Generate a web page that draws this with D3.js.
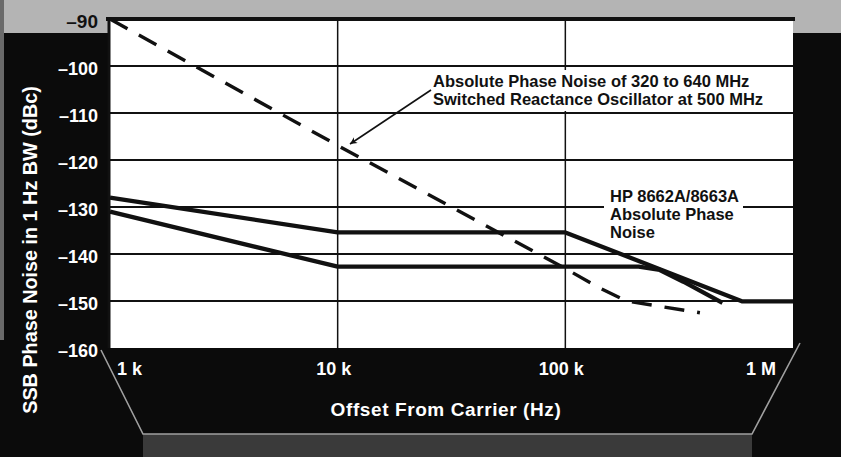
<!DOCTYPE html>
<html>
<head>
<meta charset="utf-8">
<script src="https://cdn.jsdelivr.net/npm/d3@7"></script>
<style>
  html, body { margin: 0; padding: 0; background: #0b0b0b; }
  svg { display: block; font-family: "Liberation Sans", Arial, Helvetica, sans-serif; }
</style>
</head>
<body>
<div id="chart"></div>
<script>
// Daten
const decades = [1e3, 1e4, 1e5, 1e6];
const decadeLabels = ["1 k", "10 k", "100 k", "1 M"];
const yTicks = [-90, -100, -110, -120, -130, -140, -150, -160];

// Switched Reactance Oscillator (gestrichelt)
const sraFreq  = [1e3, 1e4, 1e5, 1.41e5, 1.86e5, 3.9e5];
const sraNoise = [-90, -116.9, -143.1, -147.2, -150.0, -152.5];

// HP 8662A/8663A, obere Kurve
const hpUpperFreq  = [1e3, 1e4, 1e5, 6e5, 1e6];
const hpUpperNoise = [-128, -135.4, -135.4, -150.1, -150.1];

// HP 8662A/8663A, untere Kurve
const hpLowerFreq  = [1e3, 1e4, 2.1e5, 2.6e5, 3.3e5, 4.9e5];
const hpLowerNoise = [-131, -142.7, -142.7, -143.4, -145.9, -150.4];

const W = 841, H = 457;
const svg = d3.select("#chart").append("svg").attr("width", W).attr("height", H);

const x = d3.scaleLog().domain([1e3, 1e6]).range([110, 793]);
const y = d3.scaleLinear().domain([-160, -90]).range([348, 19]);

// Hintergrund: graues Raster oben, schwarze Tafel
svg.append("rect").attr("width", W).attr("height", H).attr("fill", "#0b0b0b");
svg.append("rect").attr("x", 0).attr("y", 0).attr("width", W).attr("height", 33).attr("fill", "#b4b4b4");
svg.append("rect").attr("x", 0).attr("y", 0).attr("width", 4).attr("height", 340).attr("fill", "#6a6a6a");
svg.append("polygon")
  .attr("points", "143,434 752,434 752,457 143,457")
  .attr("fill", "#3a3a3a");
svg.append("polyline")
  .attr("points", "101,350 143,434 752,434 800,343")
  .attr("fill", "none").attr("stroke", "#a0a0a0").attr("stroke-width", 1.6);

// Plotfläche
svg.append("rect")
  .attr("x", x(1e3)).attr("y", y(-90))
  .attr("width", x(1e6) - x(1e3)).attr("height", y(-160) - y(-90))
  .attr("fill", "#ffffff");

// Gitter
const grid = svg.append("g");
grid.selectAll("line.h").data(yTicks.filter(d => d > -160 && d < -90)).join("line")
  .attr("x1", x(1e3)).attr("x2", x(1e6))
  .attr("y1", d => y(d)).attr("y2", d => y(d))
  .attr("stroke", "#111").attr("stroke-width", 2);
grid.selectAll("line.v").data(decades.slice(1, 3)).join("line")
  .attr("x1", d => x(d)).attr("x2", d => x(d))
  .attr("y1", y(-90)).attr("y2", y(-160))
  .attr("stroke", "#111").attr("stroke-width", 1.5);
// oberer Rand
svg.append("line")
  .attr("x1", x(1e3) - 4).attr("x2", x(1e6) + 2)
  .attr("y1", y(-90)).attr("y2", y(-90))
  .attr("stroke", "#111").attr("stroke-width", 4);
// linker Rand
svg.append("line")
  .attr("x1", x(1e3) - 1).attr("x2", x(1e3) - 1)
  .attr("y1", y(-90) - 2).attr("y2", y(-160))
  .attr("stroke", "#111").attr("stroke-width", 3);

// weiße Kästen hinter den Beschriftungen (verdecken Gitter)
svg.append("rect").attr("x", 428).attr("y", 70).attr("width", 338).attr("height", 41).attr("fill", "#fff");
svg.append("rect").attr("x", 604).attr("y", 188).attr("width", 139).attr("height", 54).attr("fill", "#fff");

// Kurven
const line = d3.line().x(d => x(d[0])).y(d => y(d[1]));

svg.append("path")
  .datum(d3.zip(sraFreq, sraNoise))
  .attr("d", line)
  .attr("fill", "none").attr("stroke", "#111")
  .attr("stroke-width", 3.4).attr("stroke-dasharray", "20,13");

svg.append("path")
  .datum(d3.zip(hpUpperFreq, hpUpperNoise))
  .attr("d", line)
  .attr("fill", "none").attr("stroke", "#111")
  .attr("stroke-width", 4.3).attr("stroke-linejoin", "round");

svg.append("path")
  .datum(d3.zip(hpLowerFreq, hpLowerNoise))
  .attr("d", line)
  .attr("fill", "none").attr("stroke", "#111")
  .attr("stroke-width", 4.3).attr("stroke-linejoin", "round");

// Achsenbeschriftung Y
const yLab = svg.append("g").attr("font-weight", "bold").attr("text-anchor", "end");
yLab.selectAll("text").data(yTicks).join("text")
  .attr("x", 98)
  .attr("y", d => y(d) + 9)
  .attr("font-size", d => d === -90 ? 19 : 18)
  .attr("fill", d => d === -90 ? "#111" : "#fff")
  .text(d => "\u2013" + Math.abs(d));

svg.append("text")
  .attr("transform", "translate(37,250) rotate(-90)")
  .attr("text-anchor", "middle")
  .attr("font-size", 19.8).attr("font-weight", "bold").attr("fill", "#fff")
  .text("SSB Phase Noise in 1 Hz BW (dBc)");

// Achsenbeschriftung X
svg.append("g").attr("font-size", 18).attr("font-weight", "bold").attr("fill", "#fff")
  .selectAll("text").data(decades).join("text")
  .attr("x", (d, i) => i === 0 ? x(d) + 7 : i === 3 ? x(d) - 17 : x(d) - 4)
  .attr("y", 375)
  .attr("text-anchor", (d, i) => i === 0 ? "start" : i === 3 ? "end" : "middle")
  .text((d, i) => decadeLabels[i]);

svg.append("text")
  .attr("x", 446).attr("y", 416)
  .attr("text-anchor", "middle")
  .attr("font-size", 19).attr("font-weight", "bold").attr("fill", "#fff")
  .attr("letter-spacing", 0.6)
  .text("Offset From Carrier (Hz)");

// Anmerkungen
const note = svg.append("g").attr("font-size", 16.5).attr("font-weight", "bold").attr("fill", "#111");
note.append("text").attr("x", 433).attr("y", 87).text("Absolute Phase Noise of 320 to 640 MHz");
note.append("text").attr("x", 433).attr("y", 105).text("Switched Reactance Oscillator at 500 MHz");
["HP 8662A/8663A", "Absolute Phase", "Noise"].forEach((t, i) => {
  note.append("text").attr("x", 610).attr("y", 202 + i * 18).text(t);
});

// Pfeil auf die gestrichelte Kurve
svg.append("defs").append("marker")
  .attr("id", "arrow").attr("viewBox", "0 0 10 10")
  .attr("refX", 10).attr("refY", 5)
  .attr("markerWidth", 9).attr("markerHeight", 7)
  .attr("markerUnits", "userSpaceOnUse")
  .attr("orient", "auto")
  .append("path").attr("d", "M0,0 L10,5 L0,10 L3,5 Z").attr("fill", "#111");
svg.append("line")
  .attr("x1", 431).attr("y1", 90).attr("x2", 350).attr("y2", 144)
  .attr("stroke", "#111").attr("stroke-width", 1.6)
  .attr("marker-end", "url(#arrow)");
</script>
</body>
</html>
